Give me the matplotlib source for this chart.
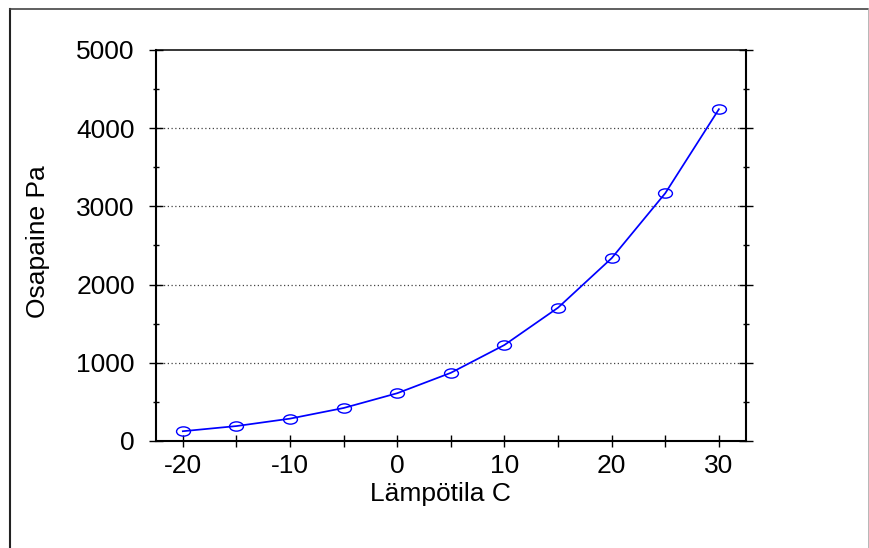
import matplotlib
matplotlib.use("Agg")
import matplotlib.pyplot as plt
from matplotlib.path import Path
from matplotlib.transforms import Affine2D
from matplotlib.lines import Line2D

temps = [-20, -15, -10, -5, 0, 5, 10, 15, 20, 25, 30]
pressure = [125, 191, 286, 422, 611, 872, 1228, 1705, 2338, 3169, 4243]
x_ticks = [-20, -15, -10, -5, 0, 5, 10, 15, 20, 25, 30]
x_tick_labels = ["-20", "", "-10", "", "0", "", "10", "", "20", "", "30"]
y_ticks = [0, 1000, 2000, 3000, 4000, 5000]
y_tick_labels = ["0", "1000", "2000", "3000", "4000", "5000"]
x_label = "Lämpötila C"
y_label = "Osapaine Pa"

plt.rcParams['font.family'] = ['Liberation Sans', 'DejaVu Sans']
FS = 19

W, H = 870, 548
fig = plt.figure(figsize=(W/100, H/100), dpi=100)
ax = fig.add_axes([156/W, 1-441/H, (745.7-156)/W, (441-50)/H])

ellipse = Path(Affine2D().scale(1.5, 1.0).transform(Path.unit_circle().vertices),
               Path.unit_circle().codes)

ax.plot(temps, pressure, color='#0000ff', lw=1.25, marker=ellipse, ms=10,
        mfc='none', mec='#0000ff', mew=1.0, zorder=3)

ax.set_xlim(-22.5, 32.5)
ax.set_ylim(0, 5000)
ax.set_xticks(x_ticks)
ax.set_xticklabels(x_tick_labels)
ax.set_yticks(y_ticks)
ax.set_yticklabels(y_tick_labels)
ax.set_yticks(range(500, 5000, 1000), minor=True)

for y in y_ticks[1:-1]:
    ax.axhline(y, color='#444444', lw=0.9, ls=(0, (1, 2)), zorder=1)

ax.tick_params(axis='y', which='major', direction='inout', length=10.5, width=1,
               left=True, right=True, labelsize=FS, pad=10)
ax.tick_params(axis='y', which='minor', direction='inout', length=5, width=1,
               left=True, right=True)
ax.tick_params(axis='x', which='major', direction='inout', length=8.6, width=1,
               bottom=True, top=False, labelsize=FS, pad=5)
for s in ['left', 'right', 'bottom']:
    ax.spines[s].set_linewidth(1.5)
ax.spines['top'].set_linewidth(1.1)

fig.text(440/W, 1-494/H, x_label, fontsize=FS, ha='center', va='center')
fig.text(38/W, 1-242/H, y_label, fontsize=FS, ha='center', va='center', rotation=90)

# figure frame
fig.add_artist(Line2D([10/W, 10/W], [0, 1-9/H], transform=fig.transFigure, color='#222222', lw=1.5))
fig.add_artist(Line2D([10/W, 869/W], [1-9/H, 1-9/H], transform=fig.transFigure, color='#444444', lw=1.2))
fig.add_artist(Line2D([869/W, 869/W], [0, 1-9/H], transform=fig.transFigure, color='#aaaaaa', lw=1.2))

fig.savefig("out.png", dpi=100)
